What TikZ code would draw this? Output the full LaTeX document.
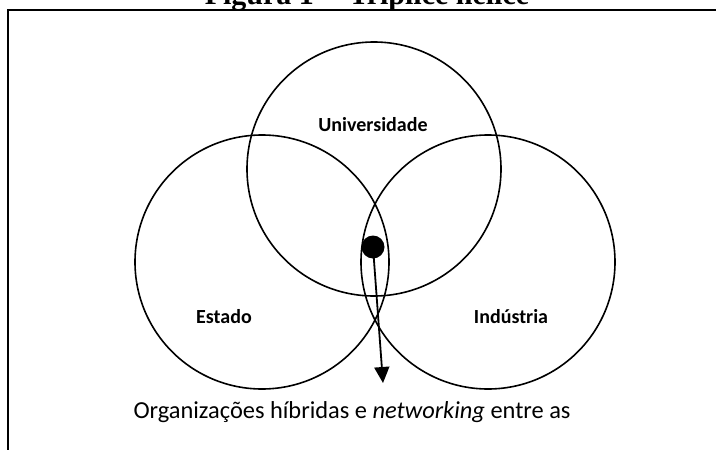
\documentclass[tikz,border=0pt]{standalone}
\usepackage{fontspec}
\setmainfont{Carlito}
\newfontfamily\titlefont{Liberation Serif}
\usetikzlibrary{arrows.meta, positioning}

\begin{document}
\begin{tikzpicture}[x=1pt, y=-1pt,
    sphere/.style={circle, draw, line width=1.6pt, minimum size=254pt, inner sep=0pt},
    lbl/.style={font=\fontsize{20}{24}\selectfont\bfseries},
    arr/.style={-{Triangle[length=16pt, width=15pt]}, line width=1.8pt}
  ]
  \useasboundingbox (0,0) rectangle (716,450);

  % Title (cut by the page edge) and frame
  \node[font=\titlefont\fontsize{30}{34}\selectfont\bfseries, anchor=base] (title) at (367, 4) {Figura 1 -- Tríplice hélice};
  \coordinate (frameTL) at (8, 10);
  \draw[line width=1.2pt] (716, 10) -- (frameTL) -- (8, 450);

  % Helix spheres
  \node[sphere] (uni) at (374, 169) {};
  \node[sphere] (est) at (262, 262) {};
  \node[sphere] (ind) at (488, 262) {};

  \node[lbl] (uniL) at (373, 125) {Universidade};
  \node[lbl] (estL) at (224, 317) {Estado};
  \node[lbl] (indL) at (511, 317) {Indústria};

  % Hybrid organisations
  \node[circle, fill=black, minimum size=23pt, inner sep=0pt] (dot) at (373, 247) {};
  \coordinate (tip) at (383, 383);
  \draw[arr] (dot.center) -- (tip);

  \node[font=\fontsize{24.4}{28}\selectfont] (note) at (352, 412) {Organizações híbridas e \textit{networking} entre as};
\end{tikzpicture}
\end{document}
